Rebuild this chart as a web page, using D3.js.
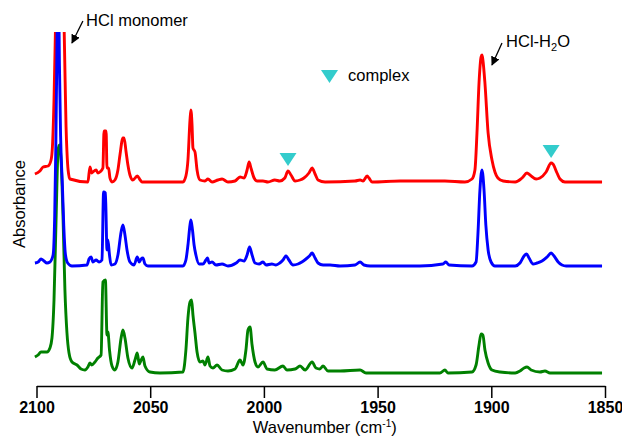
<!DOCTYPE html>
<html lang="en">
<head>
<meta charset="UTF-8">
<title>HCl spectra</title>
<script src="https://d3js.org/d3.v7.min.js"></script>
<style>
  body { margin: 0; background: #fff; }
  svg { display: block; font-family: "Liberation Sans", Arial, sans-serif; }
  .axis-title { font-size: 16.5px; }
  .note { font-size: 16.5px; }
</style>
</head>
<body>
<svg id="chart" width="622" height="437"></svg>
<script>
// ---- data (absorbance relative to each trace's own baseline) ----
const xTicks = [2100, 2050, 2000, 1950, 1900, 1850];
const traceColors = ["#ff0000", "#008000", "#0000ff"];
const traceOffsets = [2.04, 0.13, 1.20];   // red, green, blue (offset for clarity)

const redWn = [2100.7,2098.5,2097.1,2094.9,2093.6,2093.0,2092.3,2091.6,2091.0,2090.3,2089.4,2088.6,2087.9,2087.4,2087.0,
  2086.6,2086.1,2085.3,
  2077.4,2076.5,2075.7,2075.2,2073.8,2073.0,2072.1,2070.8,2070.3,2069.4,2069.0,2068.3,2067.7,2066.8,2065.5,2064.2,2063.3,
  2062.0,2061.5,2060.6,2059.8,2058.9,2057.6,2055.7,2054.4,2053.6,2035.6,2034.3,2033.4,2032.5,2032.1,2031.6,2031.2,2030.3,
  2029.4,2028.1,2025.9,2024.6,2022.8,2020.2,2018.4,2015.8,2012.7,2010.5,2008.7,2007.4,2006.5,2005.7,2004.3,2003.0,2000.4,
  1998.2,1995.2,1993.0,1990.8,1989.4,1988.1,1986.3,1984.1,1982.4,1980.2,1978.8,1977.5,1976.2,1973.1,1959.9,1957.7,1956.4,
  1954.6,1953.8,1952.4,1940.1,1928.7,1920.4,1911.6,1908.5,1907.2,1906.3,1905.4,1904.5,1904.1,1903.7,1902.8,1901.4,1899.7,
  1898.4,1897.1,1894.8,1889.5,1886.5,1884.3,1883.0,1880.3,1878.6,1875.9,1873.7,1872.9,1871.1,1869.8,1867.6,1851.3];
const redAbs = [0.08,0.11,0.15,0.16,0.22,0.35,0.82,1.6,2.3,1.8,2.0,2.4,1.6,1.0,0.55,
  0.30,0.12,0.03,
  0,0.15,0.09,0.10,0.12,0.09,0.10,0.14,0.51,0.51,0.14,0.14,0.04,0,0.02,0.12,0.27,
  0.44,0.44,0.30,0.17,0.07,0.02,0.06,0.02,0,0,0.06,0.22,0.62,0.72,0.57,0.34,0.30,
  0.12,0.02,0.01,0.03,0,0.02,0.03,0,0.01,0.05,0.04,0.12,0.20,0.14,0.04,0.01,0.01,
  0,0.02,0.01,0.04,0.11,0.07,0.01,0.02,0.04,0.09,0.14,0.08,0.02,0,0.01,0.02,0.01,
  0.06,0.04,0,0.01,0.01,0.01,0,0.03,0.12,0.49,0.99,1.25,1.27,1.22,0.99,0.49,0.22,
  0.10,0.04,0.01,0,0.04,0.09,0.07,0.03,0.04,0.10,0.19,0.18,0.09,0.03,0,0];

const blueWn = [2100.7,2099.3,2098.0,2096.7,2095.4,2094.1,2092.7,2092.0,2091.5,2091.1,2090.7,2090.3,2089.9,2089.4,2088.6,
  2088.0,2087.3,2086.3,2084.4,2077.8,2076.9,2076.0,2075.2,2073.8,2072.5,2071.2,2070.5,2069.7,2069.0,2068.6,2067.9,2067.2,
  2065.5,2064.2,2062.8,2062.0,2061.1,2060.2,2058.9,2057.1,2055.7,2054.8,2054.0,2053.2,2052.3,2051.0,2035.6,2034.3,2033.4,
  2032.5,2032.1,2031.4,2030.7,2029.9,2028.5,2026.8,2025.5,2024.8,2024.1,2022.8,2021.1,2018.4,2015.8,2012.2,2010.5,2008.7,
  2007.4,2006.3,2005.2,2003.9,2002.1,2000.4,1999.1,1996.5,1994.7,1993.0,1991.6,1990.3,1989.0,1987.2,1985.0,1983.3,1981.5,
  1980.0,1978.8,1977.5,1976.2,1974.0,1970.9,1966.5,1959.9,1957.7,1956.0,1953.3,1931.4,1921.3,1920.0,1918.6,1908.5,1906.7,
  1905.9,1905.0,1904.1,1903.2,1902.4,1901.4,1900.1,1898.4,1889.5,1887.4,1885.6,1884.5,1883.4,1881.6,1879.9,1877.7,1875.5,
  1873.7,1872.4,1870.6,1868.9,1867.1,1851.3];
const blueAbs = [0.03,0.04,0.07,0.05,0.03,0.04,0.11,0.5,1.2,2.0,2.7,2.7,2.0,1.3,0.8,
  0.4,0.12,0.03,0,0.01,0.07,0.09,0.04,0.06,0.04,0.06,0.74,0.73,0.16,0.26,0.11,0.01,
  0.02,0.11,0.34,0.41,0.31,0.16,0.04,0.01,0.09,0.04,0.07,0.08,0.02,0,0,0.06,0.21,
  0.41,0.46,0.36,0.21,0.11,0.02,0.02,0.06,0.08,0.03,0.04,0.01,0.02,0,0.03,0.06,0.05,
  0.11,0.19,0.11,0.03,0.02,0.04,0.01,0.02,0.01,0.03,0.06,0.10,0.06,0.01,0.02,0.04,0.07,
  0.10,0.13,0.08,0.03,0.01,0.01,0,0.01,0.04,0.01,0,0,0.02,0.04,0.01,0,0.04,
  0.31,0.76,0.96,0.76,0.41,0.16,0.04,0,0,0.03,0.10,0.12,0.08,0.02,0.03,0.05,0.09,
  0.13,0.10,0.04,0.01,0,0];

const greenWn = [2100.7,2099.3,2098.0,2095.4,2094.1,2093.2,2092.3,2091.4,2090.5,2089.9,2089.2,2088.3,2087.5,2086.6,2085.7,
  2084.4,2082.2,2080.4,2078.7,2077.4,2076.5,2075.7,2074.3,2073.0,2071.6,2070.8,2069.7,2069.0,2068.6,2067.9,2066.8,2065.5,
  2064.2,2062.8,2062.0,2061.1,2059.8,2058.0,2056.7,2055.7,2054.8,2054.0,2053.2,2052.3,2050.1,2045.7,2035.6,2034.3,2033.4,
  2032.5,2031.8,2031.2,2030.3,2029.4,2028.1,2026.8,2025.9,2024.6,2023.7,2022.4,2020.6,2018.4,2015.8,2012.7,2010.5,2009.2,
  2007.9,2007.0,2006.1,2005.2,2003.9,2002.6,2000.4,1998.6,1995.2,1991.6,1989.9,1986.3,1984.1,1981.9,1978.8,1977.1,1975.4,
  1974.0,1971.8,1966.5,1957.7,1955.1,1922.6,1920.4,1919.1,1908.5,1906.7,1905.4,1904.5,1903.7,1902.8,1901.4,1899.7,1896.2,
  1889.5,1887.4,1885.6,1884.3,1882.5,1878.6,1876.4,1874.2,1851.3];
const greenAbs = [0.16,0.18,0.21,0.21,0.25,0.35,0.73,1.53,2.23,2.28,2.13,1.53,0.83,0.40,0.20,
  0.11,0.08,0.04,0.03,0.06,0.10,0.08,0.11,0.15,0.18,0.91,0.93,0.38,0.41,0.23,0.07,0.03,
  0.11,0.35,0.43,0.35,0.15,0.05,0.13,0.20,0.09,0.13,0.16,0.07,0.01,0,0.01,0.23,0.55,
  0.71,0.73,0.58,0.40,0.21,0.11,0.12,0.08,0.16,0.07,0.05,0.08,0.03,0.02,0.04,0.13,0.08,
  0.23,0.43,0.46,0.28,0.11,0.06,0.11,0.04,0.03,0.07,0.03,0.04,0.07,0.03,0.11,0.05,0.04,
  0.07,0.02,0.02,0.03,0,0,0.03,0,0.01,0.08,0.28,0.39,0.38,0.23,0.10,0.03,0.01,
  0,0.02,0.05,0.06,0.03,0.01,0.02,0,0];

const complexPeaks = [1989.4, 1873.7];   // wavenumbers marked as complex (on red trace)

// ---- layout ----
const width = 622, height = 437;
const plotLeft = 36.5, plotRight = 605, plotTop = 32, plotBottom = 386;

const x = d3.scaleLinear().domain([2100, 1850]).range([plotLeft, plotRight]);
const y = d3.scaleLinear().domain([0, 3.54]).range([plotBottom, plotTop]);

const svg = d3.select("#chart");

svg.append("defs").append("clipPath").attr("id", "clip")
  .append("rect")
  .attr("x", 0).attr("y", plotTop)
  .attr("width", width).attr("height", plotBottom - plotTop);

const traces = [
  [redWn, redAbs],
  [greenWn, greenAbs],
  [blueWn, blueAbs]
];

const line = d3.line()
  .x(d => x(d[0]))
  .y(d => y(d[1]))
  .curve(d3.curveMonotoneX);

const g = svg.append("g").attr("clip-path", "url(#clip)");
traces.forEach(([wn, ab], i) => {
  const pts = wn.map((w, j) => [w, ab[j] + traceOffsets[i]]);
  g.append("path")
    .attr("d", line(pts))
    .attr("fill", "none")
    .attr("stroke", traceColors[i])
    .attr("stroke-width", 2.9)
    .attr("stroke-linejoin", "round");
});

// complex markers above red trace
const tri = "M-8.5,-13L8.5,-13L0,0Z";
complexPeaks.forEach(w => {
  const idx = d3.minIndex(redWn, v => Math.abs(v - w));
  svg.append("path")
    .attr("d", tri)
    .attr("fill", "#33cccc")
    .attr("transform", `translate(${x(w)},${y(redAbs[idx] + traceOffsets[0] + 0.05)})`);
});

// x axis
const axis = d3.axisBottom(x).tickValues(xTicks).tickSize(12).tickSizeOuter(0).tickFormat(d3.format("d"));
const ax = svg.append("g").attr("transform", `translate(0,${plotBottom})`).call(axis);
ax.select(".domain").attr("stroke", "#000").attr("stroke-width", 1.5);
ax.selectAll(".tick line").attr("stroke", "#000").attr("stroke-width", 1.5);
ax.selectAll(".tick text")
  .attr("y", 16).attr("dy", "0.71em")
  .attr("fill", "#000")
  .style("font-size", "16px")
  .style("font-weight", "bold")
  .style("font-family", "'Liberation Sans', Arial, sans-serif");

// axis titles
const xt = svg.append("text").attr("class", "axis-title")
  .attr("x", (plotLeft + plotRight) / 2 + 4).attr("y", 433)
  .attr("text-anchor", "middle");
xt.append("tspan").text("Wavenumber (cm");
xt.append("tspan").attr("dy", -6).style("font-size", "10px").text("-1");
xt.append("tspan").attr("dy", 6).text(")");

svg.append("text").attr("class", "axis-title")
  .attr("transform", `translate(25,${204}) rotate(-90)`)
  .attr("text-anchor", "middle")
  .text("Absorbance");

// annotations with arrows
svg.append("defs").append("marker")
  .attr("id", "arrow").attr("viewBox", "0 0 10 10")
  .attr("refX", 9).attr("refY", 5)
  .attr("markerWidth", 7).attr("markerHeight", 7)
  .attr("orient", "auto")
  .append("path").attr("d", "M0,0L10,5L0,10Z").attr("fill", "#000");

function annotate(tail, tip) {
  svg.append("line")
    .attr("x1", x(tail[0])).attr("y1", y(tail[1]))
    .attr("x2", x(tip[0])).attr("y2", y(tip[1]))
    .attr("stroke", "#000").attr("stroke-width", 1.3)
    .attr("marker-end", "url(#arrow)");
}
annotate([2079.6, 3.65], [2084.4, 3.43]);
svg.append("text").attr("class", "note")
  .attr("x", x(2078.2)).attr("y", y(3.60))
  .text("HCl monomer");

annotate([1895.3, 3.43], [1899.7, 3.21]);
const hw = svg.append("text").attr("class", "note")
  .attr("x", x(1893.5)).attr("y", y(3.39));
hw.append("tspan").text("HCl-H");
hw.append("tspan").attr("dy", 4).style("font-size", "11px").text("2");
hw.append("tspan").attr("dy", -4).text("O");

// legend
svg.append("path").attr("d", tri).attr("fill", "#33cccc")
  .attr("transform", "translate(329.5,83)");
svg.append("text").attr("class", "note")
  .attr("x", 348).attr("y", 81)
  .text("complex");
</script>
</body>
</html>
